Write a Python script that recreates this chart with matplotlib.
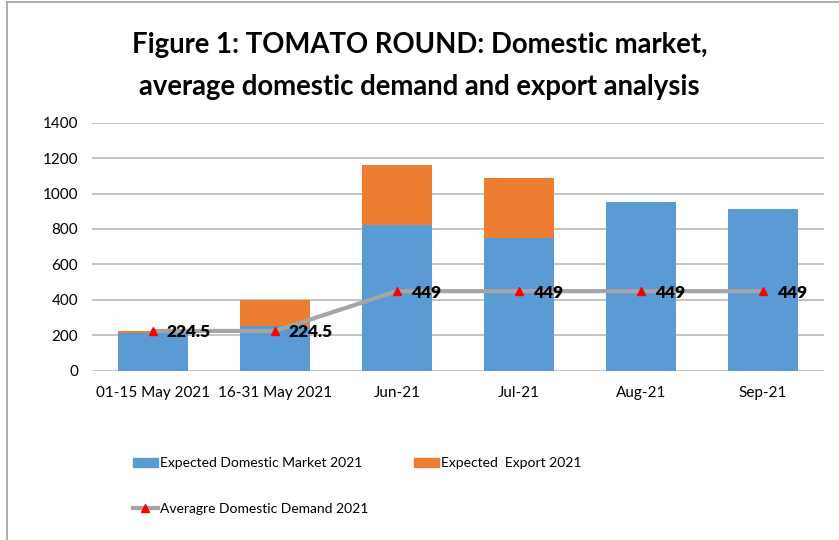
import matplotlib
matplotlib.use("Agg")
import matplotlib.pyplot as plt
from matplotlib.lines import Line2D
from matplotlib.patches import Patch

categories = ["01-15 May 2021", "16-31 May 2021", "Jun-21", "Jul-21", "Aug-21", "Sep-21"]
domestic_market = [215, 250, 820, 750, 955, 912]
export = [10, 150, 340, 340, 0, 0]
avg_demand = [224.5, 224.5, 449, 449, 449, 449]
demand_labels = ["224.5", "224.5", "449", "449", "449", "449"]

BLUE = "#5B9BD5"
ORANGE = "#ED7D31"
GREY = "#A5A5A5"

plt.rcParams["font.family"] = ["Lato", "DejaVu Sans"]

fig = plt.figure(figsize=(8.39, 5.40), dpi=100)
ax = fig.add_axes([0.1097, 0.3135, 0.8725, 0.4593])

x = list(range(len(categories)))
bw = 0.57
ax.bar(x, domestic_market, width=bw, color=BLUE, zorder=2)
ax.bar(x, export, width=bw, bottom=domestic_market, color=ORANGE, zorder=2)
ax.plot(x, avg_demand, color=GREY, lw=3, zorder=3,
        marker="^", markersize=6, markerfacecolor="red", markeredgecolor="red")

for xi, yi, lab in zip(x, avg_demand, demand_labels):
    ax.annotate(lab, (xi, yi), xytext=(10, -1), textcoords="offset points",
                ha="left", va="center", fontsize=12.5, fontweight="heavy", zorder=4)

ax.set_xlim(-0.5, len(categories) - 0.5)
ax.set_ylim(0, 1400)
ax.set_yticks(range(0, 1401, 200))
ax.set_xticks(x)
ax.set_xticklabels(categories)
ax.tick_params(axis="both", length=0, labelsize=11, colors="#000000")
ax.tick_params(axis="x", pad=11)
ax.tick_params(axis="y", pad=10)
ax.grid(axis="y", color="#BFBFBF", lw=1.3, zorder=0)
for s in ax.spines.values():
    s.set_visible(False)

fig.text(0.5, 0.878, "Figure 1: TOMATO ROUND: Domestic market,\naverage domestic demand and export analysis",
         ha="center", va="center", fontsize=19.8, fontweight="bold", linespacing=1.78)

handles = [Patch(color=BLUE),
           Line2D([], [], color=GREY, lw=3, marker="^", markersize=6,
                  markerfacecolor="red", markeredgecolor="red"),
           Patch(color=ORANGE)]
labels = ["Expected Domestic Market 2021", "Averagre Domestic Demand 2021", "Expected  Export 2021"]
fig.legend(handles, labels, ncol=2, loc="upper left", bbox_to_anchor=(0.1585, 0.153),
           frameon=False, fontsize=10, handlelength=1.8, handleheight=0.6,
           handletextpad=0.15, labelspacing=2.4, columnspacing=3.3,
           borderpad=0, borderaxespad=0)

# chart frame
fig.add_artist(Line2D([0.0083, 0.0083], [0, 0.996], color="#A0A0A0", lw=1.2))
fig.add_artist(Line2D([0.0083, 1], [0.996, 0.996], color="#A0A0A0", lw=1.2))

fig.savefig("out.png", dpi=100)
